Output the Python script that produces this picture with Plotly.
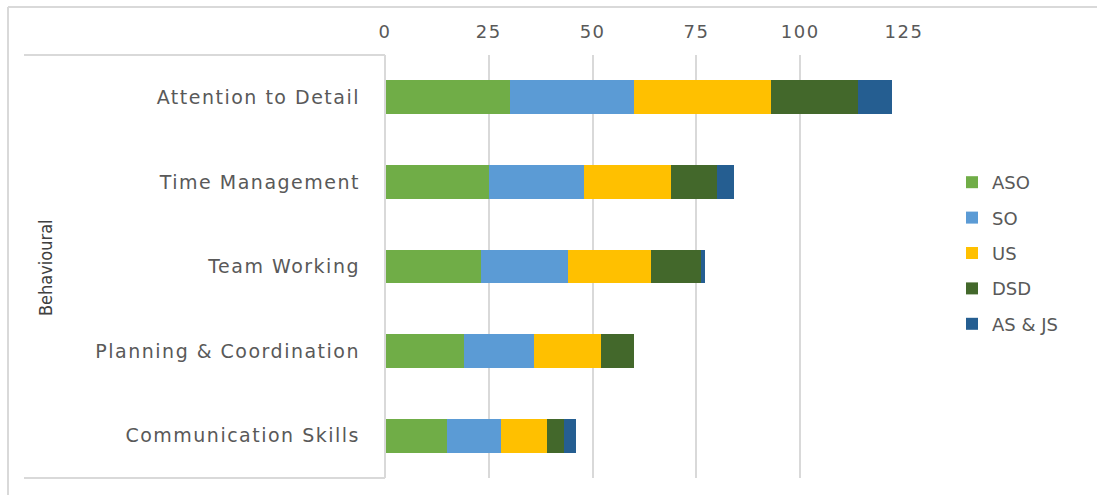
import plotly.graph_objects as go

categories = ["Attention to Detail", "Time Management", "Team Working",
              "Planning & Coordination", "Communication Skills"]
series_names = ["ASO", "SO", "US", "DSD", "AS & JS"]
aso = [30, 25, 23, 19, 15]
so = [30, 23, 21, 17, 13]
us = [33, 21, 20, 16, 11]
dsd = [21, 11, 12, 8, 4]
as_js = [8, 4, 1, 0, 3]
x_ticks = [0, 25, 50, 75, 100, 125]
group_label = "Behavioural"

colors = ["#70AD47", "#5B9BD5", "#FFC000", "#43682B", "#255E91"]
values = [aso, so, us, dsd, as_js]

W, H = 1097, 495
L, R, T, B = 385, 904, 55, 478

fig = go.Figure()
for name, vals, col in zip(series_names, values, colors):
    fig.add_trace(go.Bar(
        y=categories, x=vals, name=name, orientation="h",
        marker=dict(color=col, line=dict(width=0)),
        legendgroup=name,
    ))

def px_x(p):
    return (p - L) / (R - L)

def px_y(p):
    return (B - p) / (B - T)

def spaced(t, ls=1.5):
    return '<span style="letter-spacing:%spx">%s</span>' % (ls, t)

font_fam = "DejaVu Sans, Open Sans, sans-serif"
gray = "#595959"

shapes = [
    dict(type="line", xref="paper", yref="paper", x0=px_x(8), x1=px_x(8),
         y0=px_y(7), y1=px_y(500), line=dict(color="#d9d9d9", width=2)),
    dict(type="line", xref="paper", yref="paper", x0=px_x(8), x1=px_x(1100),
         y0=px_y(7), y1=px_y(7), line=dict(color="#d9d9d9", width=2)),
    dict(type="line", xref="paper", yref="paper", x0=px_x(24), x1=0,
         y0=1, y1=1, line=dict(color="#d9d9d9", width=2)),
    dict(type="line", xref="paper", yref="paper", x0=px_x(24), x1=0,
         y0=0, y1=0, line=dict(color="#d9d9d9", width=2)),
    dict(type="line", xref="paper", yref="paper", x0=0, x1=0,
         y0=0, y1=1, line=dict(color="#d9d9d9", width=2)),
]

fig.update_layout(
    width=W, height=H,
    margin=dict(l=L, r=W - R, t=T, b=H - B),
    barmode="stack",
    bargap=0.6,
    plot_bgcolor="white", paper_bgcolor="white",
    font=dict(family=font_fam, color=gray, size=17),
    xaxis=dict(side="top", range=[0, 125], tickvals=x_ticks,
               ticktext=[spaced(str(v), 1.5) for v in x_ticks],
               showgrid=True, gridcolor="#d9d9d9", gridwidth=2,
               zeroline=False, showline=False, ticks="",
               ticklabelstandoff=12,
               tickfont=dict(size=18, color=gray, family=font_fam)),
    yaxis=dict(categoryorder="array", categoryarray=categories,
               tickvals=categories,
               ticktext=[spaced(c, 1.5) for c in categories],
               autorange="reversed", showgrid=False, zeroline=False,
               showline=False, ticks="", ticklabelstandoff=24,
               tickfont=dict(size=19, color=gray, family=font_fam)),
    legend=dict(x=px_x(952), y=px_y(253), xanchor="left", yanchor="middle",
                traceorder="grouped", tracegroupgap=9,
                font=dict(size=18, color=gray, family=font_fam),
                itemwidth=30, bgcolor="rgba(0,0,0,0)"),
    shapes=shapes,
    annotations=[dict(text=group_label, xref="paper", yref="paper",
                      x=px_x(45), y=px_y(268), showarrow=False,
                      textangle=-90, xanchor="center", yanchor="middle",
                      font=dict(size=18, color="#404040",
                                family="Liberation Sans Narrow, DejaVu Sans Condensed, sans-serif"))],
)

fig.write_html("out.html")
